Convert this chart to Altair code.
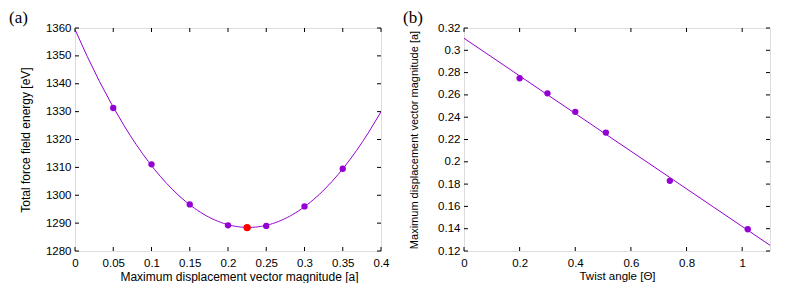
import altair as alt
import pandas as pd

# Panel (a)
a_x = [0.05, 0.10, 0.15, 0.20, 0.25, 0.30, 0.35]
a_y = [1331.3, 1311.1, 1296.7, 1289.2, 1289.0, 1296.0, 1309.5]
a_min_x = [0.225]
a_min_y = [1288.4]
a_xticks = [0, 0.05, 0.1, 0.15, 0.2, 0.25, 0.3, 0.35, 0.4]
a_yticks = [1280, 1290, 1300, 1310, 1320, 1330, 1340, 1350, 1360]

# Panel (b)
b_x = [0.20, 0.30, 0.40, 0.51, 0.74, 1.02]
b_y = [0.2749, 0.2614, 0.2448, 0.2262, 0.1829, 0.1395]
b_xticks = [0, 0.2, 0.4, 0.6, 0.8, 1.0]
b_yticks = [0.12, 0.14, 0.16, 0.18, 0.20, 0.22, 0.24, 0.26, 0.28, 0.30, 0.32]

W, H = 306, 223
TL = 4
PURPLE = "#9400D3"
FONT = "Liberation Sans"
FS = 11.5


def panel(xs, ys, xdom, ydom, xticks, yticks, xfmt, yfmt, xtitle, ytitle, label,
          method, order, xtitle_x, label_x, xtfs, ytfs, extra=None):
    df = pd.DataFrame({"x": xs, "y": ys})
    xsc = alt.Scale(domain=xdom, nice=False, zero=False)
    ysc = alt.Scale(domain=ydom, nice=False, zero=False)
    xax = alt.Axis(values=xticks, format=xfmt, ticks=False, grid=False, domain=False,
                   labelOverlap=False, labelFlush=False,
                   labelPadding=6, labelFont=FONT, labelFontSize=FS, labelColor="black",
                   title=xtitle, titleFont=FONT, titleFontSize=xtfs, titleFontWeight="normal",
                   titleColor="black", titleX=xtitle_x, titleY=25, titleBaseline="middle")
    yax = alt.Axis(values=yticks, format=yfmt, ticks=False, grid=False, domain=False,
                   labelOverlap=False, labelFlush=False,
                   labelPadding=4, labelFont=FONT, labelFontSize=FS, labelColor="black",
                   title=ytitle, titleFont=FONT, titleFontSize=ytfs, titleFontWeight="normal",
                   titleColor="black", titleX=-50, titleY=H / 2, titleBaseline="middle",
                   titleAngle=270)
    X = lambda f: alt.X(f, scale=xsc, axis=xax, title=xtitle)
    Y = lambda f: alt.Y(f, scale=ysc, axis=yax, title=ytitle)
    base = alt.Chart(df)
    if method == "poly":
        reg = base.transform_regression("x", "y", method="poly", order=order, extent=xdom)
    else:
        reg = base.transform_regression("x", "y", method="linear", extent=xdom)
    line = reg.mark_line(color=PURPLE, strokeWidth=1, clip=True).encode(
        x=X("x:Q"), y=Y("y:Q"))
    pts = base.mark_circle(color=PURPLE, opacity=1, size=40).encode(
        x=X("x:Q"), y=Y("y:Q"))
    xt = alt.Chart(pd.DataFrame({"v": xticks}))
    yt = alt.Chart(pd.DataFrame({"v": yticks}))
    tick_style = dict(color="black", strokeWidth=1)
    layers = [
        line,
        xt.mark_rule(**tick_style).encode(x=X("v:Q"), y=alt.value(H - TL), y2=alt.value(H)),
        xt.mark_rule(**tick_style).encode(x=X("v:Q"), y=alt.value(0), y2=alt.value(TL)),
        yt.mark_rule(**tick_style).encode(y=Y("v:Q"), x=alt.value(0), x2=alt.value(TL)),
        yt.mark_rule(**tick_style).encode(y=Y("v:Q"), x=alt.value(W - TL), x2=alt.value(W)),
        pts,
    ]
    if extra is not None:
        ex, ey = extra
        layers.append(alt.Chart(pd.DataFrame({"x": ex, "y": ey})).mark_circle(
            color="#FF0000", opacity=1, size=55).encode(x=X("x:Q"), y=Y("y:Q")))
    lab = alt.Chart(pd.DataFrame({"t": [label]})).mark_text(
        font="Liberation Serif", fontSize=17, color="black", align="left", baseline="top"
    ).encode(text="t:N", x=alt.value(label_x), y=alt.value(-18))
    layers.append(lab)
    return alt.layer(*layers).properties(width=W, height=H)


left = panel(a_x, a_y, [0, 0.4], [1280, 1360], a_xticks, a_yticks, "~g", "d",
             "Maximum displacement vector magnitude [a]", "Total force field energy [eV]",
             "(a)", "poly", 2, 164, -66, 12, 12, extra=(a_min_x, a_min_y))

right = panel(b_x, b_y, [0, 1.1], [0.12, 0.32], b_xticks, b_yticks, "~g", "~g",
              "Twist angle [Θ]", "Maximum displacement vector magnitude [a]",
              "(b)", "linear", 1, W / 2, -61, 11.5, 11)

chart = alt.hconcat(left, right, spacing=12).properties(padding=0).configure_view(
    stroke="black", strokeWidth=1).configure(background="white")

chart.save("out.html", embed_options={"renderer": "svg", "actions": False})
